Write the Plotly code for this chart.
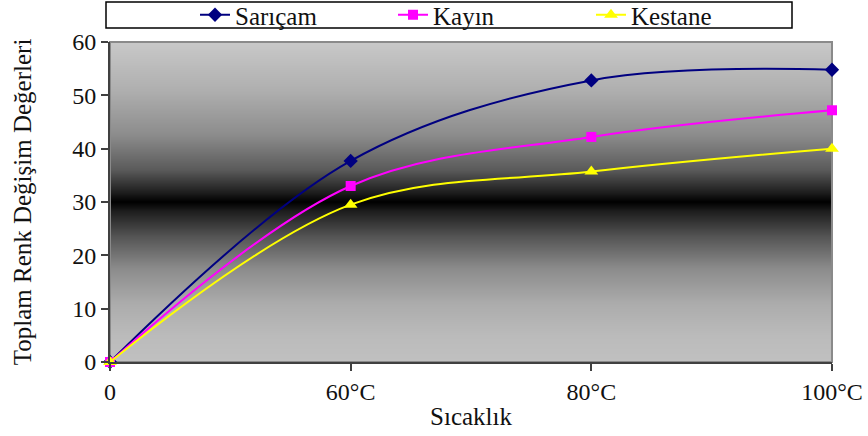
import base64, struct, zlib
import plotly.graph_objects as go

categories = ["0", "60°C", "80°C", "100°C"]
sarıcam = [0, 37.7, 52.8, 54.8]
kayin = [0, 33.0, 42.2, 47.2]
kestane = [0, 29.5, 35.7, 40.0]

# background gradient stops: (fraction from top, gray level)
grad_stops = [(0.0, 200), (0.15, 175), (0.29, 140), (0.40, 90), (0.47, 30), (0.50, 0),
              (0.53, 30), (0.61, 85), (0.71, 140), (0.82, 172), (0.92, 187), (1.0, 192)]


def gray_png(stops, h=320, w=4):
    rows = b""
    for i in range(h):
        f = i / (h - 1)
        for j in range(len(stops) - 1):
            f0, g0 = stops[j]
            f1, g1 = stops[j + 1]
            if f0 <= f <= f1:
                g = g0 + (g1 - g0) * (f - f0) / (f1 - f0)
                break
        rows += b"\x00" + bytes([int(round(g))]) * w
    def chunk(t, d):
        c = struct.pack(">I", len(d)) + t + d
        return c + struct.pack(">I", zlib.crc32(t + d) & 0xffffffff)
    png = b"\x89PNG\r\n\x1a\n"
    png += chunk(b"IHDR", struct.pack(">IIBBBBB", w, h, 8, 0, 0, 0, 0))
    png += chunk(b"IDAT", zlib.compress(rows))
    png += chunk(b"IEND", b"")
    return "data:image/png;base64," + base64.b64encode(png).decode()


x = list(range(len(categories)))
font = "Liberation Serif"

fig = go.Figure()
fig.add_trace(go.Scatter(x=x, y=sarıcam, name="Sarıçam", mode="lines+markers",
                         line=dict(color="#000080", width=2, shape="spline"),
                         marker=dict(symbol="diamond", size=11, color="#000080"),
                         cliponaxis=False))
fig.add_trace(go.Scatter(x=x, y=kayin, name="Kayın", mode="lines+markers",
                         line=dict(color="#FF00FF", width=2, shape="spline"),
                         marker=dict(symbol="square", size=10, color="#FF00FF"),
                         cliponaxis=False))
fig.add_trace(go.Scatter(x=x, y=kestane, name="Kestane", mode="lines+markers",
                         line=dict(color="#FFFF00", width=2, shape="spline"),
                         marker=dict(symbol="triangle-up", size=12, color="#FFFF00"),
                         cliponaxis=False))

fig.add_layout_image(dict(source=gray_png(grad_stops), xref="paper", yref="paper",
                          x=0, y=1, sizex=1, sizey=1, sizing="stretch",
                          xanchor="left", yanchor="top", layer="below"))

# plot-area border
fig.add_shape(type="rect", xref="paper", yref="paper", x0=0, x1=1, y0=0, y1=1,
              line=dict(color="#8a8a8a", width=2), layer="below")
# legend box
fig.add_shape(type="rect", xref="paper", yref="paper",
              x0=(106 - 110) / 722, x1=(792 - 110) / 722,
              y0=1 + (42 - 28) / 320, y1=1 + (42 - 2) / 320,
              line=dict(color="#000000", width=1.5), fillcolor="white")

fig.update_layout(
    width=868, height=436,
    margin=dict(l=110, r=36, t=42, b=74, autoexpand=False),
    paper_bgcolor="white", plot_bgcolor="#a0a0a0",
    font=dict(family=font, size=24, color="#111111"),
    showlegend=True,
    legend=dict(orientation="h", x=(195 - 110) / 722, xanchor="left",
                y=1 + (42 - 15) / 320, yanchor="middle",
                bgcolor="rgba(0,0,0,0)", borderwidth=0,
                font=dict(family=font, size=25, color="#111111"),
                entrywidth=153, itemwidth=30, tracegroupgap=0),
    xaxis=dict(range=[0, 3], tickmode="array", tickvals=x, ticktext=categories,
               showgrid=False, zeroline=False, showline=True, linecolor="#404040",
               linewidth=2, ticks="outside", ticklen=7, tickcolor="#404040",
               tickwidth=1.5,
               title=dict(text="Sıcaklık", font=dict(family=font, size=25), standoff=4)),
    yaxis=dict(range=[0, 60], tickmode="linear", tick0=0, dtick=10,
               showgrid=False, zeroline=False, showline=True, linecolor="#404040",
               linewidth=2, ticks="outside", ticklen=7, tickcolor="#404040",
               tickwidth=1.5,
               title=dict(text="Toplam Renk Değişim Değerleri", font=dict(family=font, size=25), standoff=33)),
)

fig.write_html("out.html")
